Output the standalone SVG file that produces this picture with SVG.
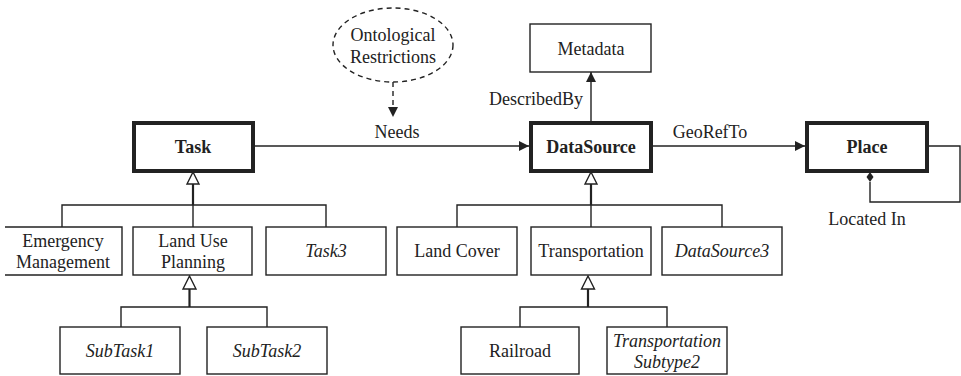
<svg xmlns="http://www.w3.org/2000/svg" width="961" height="376" viewBox="0 0 961 376">
<style>
text{font-family:"Liberation Serif","Times New Roman",serif;font-size:18px;fill:#222;text-anchor:middle}
.b{font-weight:bold}
.i{font-style:italic}
.box{fill:#fff;stroke:#222;stroke-width:1.4}
.main{fill:#fff;stroke:#222;stroke-width:4}
.ln{fill:none;stroke:#222;stroke-width:1.4}
.gen{fill:none;stroke:#222;stroke-width:2.2}
.tri{fill:#fff;stroke:#222;stroke-width:1.4}
</style>
<defs>
<marker id="arr" viewBox="0 0 10 10" refX="10" refY="5" markerWidth="10" markerHeight="10" markerUnits="userSpaceOnUse" orient="auto">
<path d="M0,0 L10,5 L0,10 Z" fill="#222"/>
</marker>
</defs>
<g id="connectors">
<path class="ln" d="M254,146 H529" marker-end="url(#arr)"/>
<path class="ln" d="M652,146 H805" marker-end="url(#arr)"/>
<path class="ln" d="M591,121 V72" marker-end="url(#arr)"/>
<path class="ln" stroke-dasharray="5,4" d="M393,82 V117" marker-end="url(#arr)"/>
<path class="ln" d="M928,146 H960 V202 H870 V182"/>
<path d="M870,172 L873.5,177 L870,182 L866.5,177 Z" fill="#222"/>
<path class="gen" d="M193,184 V205"/>
<path class="ln" d="M62,227 V205 H326 V227 M193,205 V227"/>
<path class="tri" d="M193,172 L199,184 L187,184 Z"/>
<path class="gen" d="M591,184 V205"/>
<path class="ln" d="M457,227 V205 H722 V227 M591,205 V227"/>
<path class="tri" d="M591,172 L597,184 L585,184 Z"/>
<path class="gen" d="M189.5,289 V307"/>
<path class="ln" d="M121,327 V307 H267 V327"/>
<path class="tri" d="M189.5,276 L196,289 L183,289 Z"/>
<path class="gen" d="M588,289 V307"/>
<path class="ln" d="M520,327 V307 H667 V327"/>
<path class="tri" d="M588,276 L594.5,289 L581.5,289 Z"/>
<text x="397" y="138">Needs</text>
<text x="710" y="138">GeoRefTo</text>
<text x="536" y="105">DescribedBy</text>
<text x="867" y="225">Located In</text>
</g>
<g id="ontological-restrictions">
<ellipse cx="393" cy="45" rx="60" ry="37" fill="#fff" stroke="#222" stroke-width="1.4" stroke-dasharray="5,4"/>
<text x="393" y="41">Ontological</text>
<text x="393" y="63">Restrictions</text>
</g>
<g id="task">
<rect class="main" x="134" y="123" width="119" height="48"/>
<text class="b" x="193" y="153">Task</text>
</g>
<g id="datasource">
<rect class="main" x="531" y="123" width="120" height="48"/>
<text class="b" x="591" y="153">DataSource</text>
</g>
<g id="place">
<rect class="main" x="807" y="123" width="120" height="48"/>
<text class="b" x="867" y="153">Place</text>
</g>
<g id="metadata">
<rect class="box" x="530" y="24" width="121" height="48"/>
<text x="591" y="55">Metadata</text>
</g>
<g id="emergency-management">
<path class="box" d="M5,227 H122 V275 H5"/>
<text x="63" y="247">Emergency</text>
<text x="63" y="268">Management</text>
</g>
<g id="land-use-planning">
<rect class="box" x="133" y="227" width="119" height="48"/>
<text x="193" y="247">Land Use</text>
<text x="193" y="268">Planning</text>
</g>
<g id="task3">
<rect class="box" x="266" y="227" width="120" height="48"/>
<text class="i" x="326" y="257">Task3</text>
</g>
<g id="land-cover">
<rect class="box" x="397" y="227" width="120" height="48"/>
<text x="457" y="257">Land Cover</text>
</g>
<g id="transportation">
<rect class="box" x="531" y="227" width="120" height="48"/>
<text x="591" y="257">Transportation</text>
</g>
<g id="datasource3">
<rect class="box" x="662" y="227" width="120" height="48"/>
<text class="i" x="722" y="257">DataSource3</text>
</g>
<g id="subtask1">
<rect class="box" x="60" y="327" width="120" height="47"/>
<text class="i" x="120" y="357">SubTask1</text>
</g>
<g id="subtask2">
<rect class="box" x="207" y="327" width="120" height="47"/>
<text class="i" x="267" y="357">SubTask2</text>
</g>
<g id="railroad">
<rect class="box" x="461" y="327" width="118" height="47"/>
<text x="520" y="357">Railroad</text>
</g>
<g id="transportation-subtype2">
<rect class="box" x="607" y="327" width="120" height="47"/>
<text class="i" x="667" y="347">Transportation</text>
<text class="i" x="667" y="368">Subtype2</text>
</g>
</svg>
